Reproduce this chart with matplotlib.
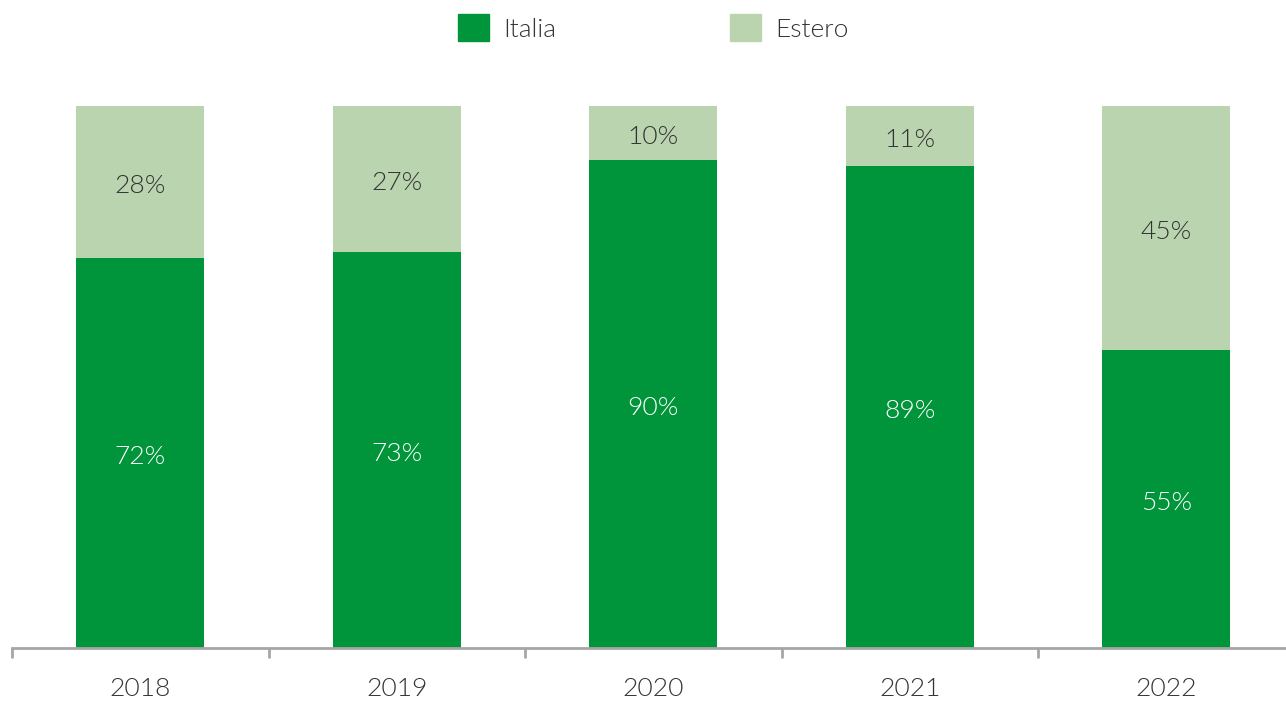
import matplotlib.pyplot as plt
from matplotlib.patches import Patch
import matplotlib.transforms as mtransforms
import numpy as np

plt.rcParams['font.family'] = ['Lato', 'DejaVu Sans']

years = ['2018', '2019', '2020', '2021', '2022']
italia = [72, 73, 90, 89, 55]
estero = [28, 27, 10, 11, 45]

dark = '#00953a'
light = '#bad4b0'
txt = '#333333'
grey = '#a6a6a6'
fw = 300

W, H = 1286, 701
fig = plt.figure(figsize=(W / 100, H / 100), dpi=100)
ax = fig.add_axes([12 / W, (H - 648) / H, (W - 12) / W, (648 - 106) / H])

x = np.arange(len(years))
ax.bar(x, italia, width=0.5, color=dark)
ax.bar(x, estero, width=0.5, bottom=italia, color=light)

# labels sit a little below the segment centres
down = mtransforms.offset_copy(ax.transData, fig=fig, x=0, y=-4, units='dots')
for i in range(len(years)):
    ax.text(x[i], italia[i] / 2, f'{italia[i]}%', ha='center', va='center',
            color='white', fontsize=19, fontweight=fw, transform=down)
    ax.text(x[i], italia[i] + estero[i] / 2, f'{estero[i]}%', ha='center',
            va='center', color=txt, fontsize=19, fontweight=fw, transform=down)

ax.set_xlim(-0.5, (W - 12) / 256.5 - 0.5)
ax.set_ylim(0, 100)
for s in ['top', 'right', 'left']:
    ax.spines[s].set_visible(False)
ax.spines['bottom'].set_color(grey)
ax.spines['bottom'].set_linewidth(2)
ax.set_yticks([])
ax.set_xticks(x)
ax.set_xticklabels(years, fontsize=19, color=txt, fontweight=fw)
ax.tick_params(axis='x', which='major', length=0, pad=21)
ax.set_xticks(np.arange(-0.5, 4.0, 1.0), minor=True)
ax.tick_params(axis='x', which='minor', length=7, width=2, color=grey)

handles = [Patch(color=dark, label='Italia'), Patch(color=light, label='Estero')]
leg = fig.legend(handles=handles, loc='center', bbox_to_anchor=(0.508, 1 - 28 / H),
                 ncol=2, frameon=False, fontsize=19, handlelength=1.15,
                 handleheight=1.15, handletextpad=0.55, columnspacing=6.6,
                 borderaxespad=0)
for t in leg.get_texts():
    t.set_color(txt)
    t.set_fontweight(fw)

fig.savefig('out.png', dpi=100)
